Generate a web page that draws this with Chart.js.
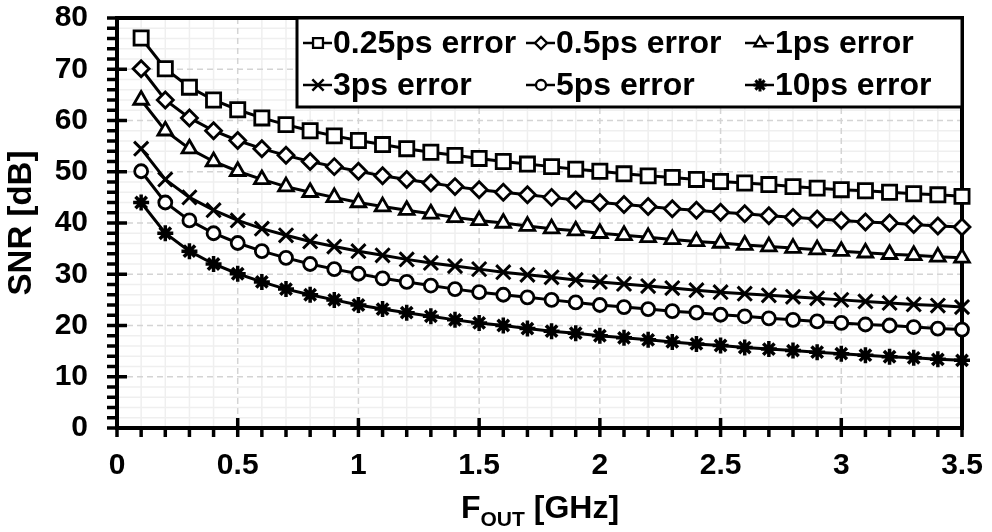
<!DOCTYPE html>
<html>
<head>
<meta charset="utf-8">
<script src="https://cdn.jsdelivr.net/npm/chart.js@4.4.1/dist/chart.umd.min.js"></script>
<style>
  html, body { margin: 0; padding: 0; background: #fff; }
  #wrap { width: 992px; height: 532px; }
</style>
</head>
<body>
<div id="wrap"><canvas id="snrChart"></canvas></div>
<script>
// --- data ---
const freqGHz = [0.1, 0.2, 0.3, 0.4, 0.5, 0.6, 0.7, 0.8, 0.9, 1.0, 1.1, 1.2, 1.3, 1.4, 1.5, 1.6, 1.7, 1.8,
                 1.9, 2.0, 2.1, 2.2, 2.3, 2.4, 2.5, 2.6, 2.7, 2.8, 2.9, 3.0, 3.1, 3.2, 3.3, 3.4, 3.5];
const snr025ps = [76.1, 70.1, 66.5, 64.0, 62.1, 60.5, 59.2, 58.0, 57.0, 56.1, 55.3, 54.5, 53.8, 53.2, 52.6, 52.0, 51.5, 51.0,
                  50.5, 50.1, 49.6, 49.2, 48.9, 48.5, 48.1, 47.8, 47.5, 47.1, 46.8, 46.5, 46.3, 46.0, 45.7, 45.5, 45.2];
const snr05ps = [70.1, 64.0, 60.5, 58.0, 56.1, 54.5, 53.2, 52.0, 51.0, 50.1, 49.2, 48.5, 47.8, 47.1, 46.5, 46.0, 45.5, 45.0,
                 44.5, 44.0, 43.6, 43.2, 42.8, 42.5, 42.1, 41.8, 41.4, 41.1, 40.8, 40.5, 40.2, 40.0, 39.7, 39.4, 39.2];
const snr1ps = [64.0, 58.0, 54.5, 52.0, 50.1, 48.5, 47.1, 46.0, 45.0, 44.0, 43.2, 42.5, 41.8, 41.1, 40.5, 40.0, 39.4, 38.9,
                38.5, 38.0, 37.6, 37.2, 36.8, 36.4, 36.1, 35.7, 35.4, 35.1, 34.8, 34.5, 34.2, 33.9, 33.7, 33.4, 33.2];
const snr3ps = [54.5, 48.5, 45.0, 42.5, 40.5, 38.9, 37.6, 36.4, 35.4, 34.5, 33.7, 32.9, 32.2, 31.6, 31.0, 30.4, 29.9, 29.4,
                28.9, 28.5, 28.1, 27.7, 27.3, 26.9, 26.5, 26.2, 25.9, 25.6, 25.3, 25.0, 24.7, 24.4, 24.1, 23.9, 23.6];
const snr5ps = [50.1, 44.0, 40.5, 38.0, 36.1, 34.5, 33.2, 32.0, 31.0, 30.1, 29.2, 28.5, 27.8, 27.1, 26.5, 26.0, 25.5, 25.0,
                24.5, 24.0, 23.6, 23.2, 22.8, 22.5, 22.1, 21.8, 21.4, 21.1, 20.8, 20.5, 20.2, 20.0, 19.7, 19.4, 19.2];
const snr10ps = [44.0, 38.0, 34.5, 32.0, 30.1, 28.5, 27.1, 26.0, 25.0, 24.0, 23.2, 22.5, 21.8, 21.1, 20.5, 20.0, 19.4, 18.9,
                 18.5, 18.0, 17.6, 17.2, 16.8, 16.4, 16.1, 15.7, 15.4, 15.1, 14.8, 14.5, 14.2, 13.9, 13.7, 13.4, 13.2];
const seriesLabels = ['0.25ps error', '0.5ps error', '1ps error', '3ps error', '5ps error', '10ps error'];
const seriesValues = [snr025ps, snr05ps, snr1ps, snr3ps, snr5ps, snr10ps];
const xRange = [0, 3.5];
const yRange = [0, 80];

// --- look ---
const FONT = "'Liberation Sans', Arial, sans-serif";
const markers = [
    { style: 'rect', r: 10, lr: 7, bw: 2.8 },
    { style: 'rectRot', r: 8, lr: 6, bw: 2.8 },
    { style: 'triangle', r: 8.5, lr: 6.5, bw: 2.8 },
    { style: 'crossRot', r: 10, lr: 8, bw: 3 },
    { style: 'circle', r: 6.5, lr: 5, bw: 2.8 },
    { style: 'star', r: 8, lr: 6.5, bw: 3.5 }
];

function line(ctx, x1, y1, x2, y2) {
    ctx.beginPath(); ctx.moveTo(x1, y1); ctx.lineTo(x2, y2); ctx.stroke();
}

// grid, frame and tick marks (drawn under the series), legend + titles on top
const framePlugin = {
    id: 'frame',
    beforeDatasetsDraw(chart) {
        const { ctx, chartArea: a, scales: { x, y } } = chart;
        ctx.save();
        ctx.lineCap = 'butt';
        // minor grid
        ctx.strokeStyle = '#efefef'; ctx.lineWidth = 1.5;
        for (let i = 1; i < 35; i++) {
            if (i % 5 === 0) continue;
            const px = x.getPixelForValue(i / 10);
            line(ctx, px, a.top, px, a.bottom);
        }
        for (let v = 2; v < 80; v += 2) {
            if (v % 10 === 0) continue;
            const py = y.getPixelForValue(v);
            line(ctx, a.left, py, a.right, py);
        }
        // major grid, dashed
        ctx.strokeStyle = '#d4d4d4'; ctx.lineWidth = 1.5; ctx.setLineDash([6, 4]);
        for (let i = 1; i < 7; i++) {
            const px = x.getPixelForValue(i * 0.5);
            line(ctx, px, a.top, px, a.bottom);
        }
        for (let v = 10; v < 80; v += 10) {
            const py = y.getPixelForValue(v);
            line(ctx, a.left, py, a.right, py);
        }
        ctx.setLineDash([]);
        // frame
        ctx.strokeStyle = '#000'; ctx.lineWidth = 4;
        ctx.strokeRect(a.left, a.top, a.width, a.height);
        // tick marks
        ctx.lineWidth = 3.5;
        for (let i = 0; i <= 35; i++) {
            const px = x.getPixelForValue(i / 10);
            const major = i % 5 === 0;
            line(ctx, px, major ? a.bottom - 10 : a.bottom, px, a.bottom + 9);
        }
        for (let v = 0; v <= 80; v += 2) {
            const py = y.getPixelForValue(v);
            const major = v % 10 === 0;
            line(ctx, a.left - 10, py, major ? a.left + 10 : a.left, py);
        }
        ctx.restore();
    },
    afterDatasetsDraw(chart) {
        const { ctx, chartArea: a } = chart;
        ctx.save();
        // legend box
        const L = a.left + 180, T = a.top, R = a.right, B = a.top + 89;
        ctx.fillStyle = '#fff';
        ctx.fillRect(L, T, R - L, B - T);
        ctx.strokeStyle = '#000'; ctx.lineWidth = 3;
        ctx.strokeRect(L, T, R - L, B - T);
        const colX = [L + 6, L + 229, L + 448];
        const rowY = [T + 25, T + 67];
        ctx.font = `bold 32px ${FONT}`;
        ctx.textBaseline = 'middle';
        ctx.textAlign = 'left';
        seriesLabels.forEach((lab, i) => {
            const sx = colX[i % 3], sy = rowY[Math.floor(i / 3)];
            const m = markers[i];
            ctx.strokeStyle = '#000'; ctx.lineWidth = 2.5;
            line(ctx, sx, sy, sx + 29, sy);
            ctx.fillStyle = '#fff'; ctx.lineWidth = m.bw - 0.5;
            Chart.helpers.drawPoint(ctx, { pointStyle: m.style, radius: m.lr, borderWidth: m.bw - 0.5, rotation: 0 }, sx + 15, sy);
            ctx.fillStyle = '#000';
            ctx.fillText(lab, sx + 30, sy + 1);
        });
        // axis titles
        ctx.fillStyle = '#000';
        ctx.font = `bold 33px ${FONT}`;
        ctx.save();
        ctx.translate(22, (a.top + a.bottom) / 2);
        ctx.rotate(-Math.PI / 2);
        ctx.textAlign = 'center';
        ctx.fillText('SNR [dB]', 0, 0);
        ctx.restore();
        const big = `bold 32px ${FONT}`, small = `bold 21px ${FONT}`;
        ctx.textBaseline = 'alphabetic';
        ctx.font = big; const wF = ctx.measureText('F').width, wG = ctx.measureText(' [GHz]').width;
        ctx.font = small; const wO = ctx.measureText('OUT').width;
        let tx = 540 - (wF + wO + wG) / 2;
        const base = 518;
        ctx.font = big; ctx.fillText('F', tx, base); tx += wF;
        ctx.font = small; ctx.fillText('OUT', tx, base + 8); tx += wO;
        ctx.font = big; ctx.fillText(' [GHz]', tx, base);
        ctx.restore();
    }
};

const datasets = seriesValues.map((vals, i) => ({
    label: seriesLabels[i],
    data: freqGHz.map((f, k) => ({ x: f, y: vals[k] })),
    borderColor: '#000',
    borderWidth: 3,
    pointStyle: markers[i].style,
    pointRadius: markers[i].r,
    pointBorderWidth: markers[i].bw,
    pointBackgroundColor: '#fff',
    pointBorderColor: '#000',
    tension: 0,
    clip: false
}));

function noScalePadding(scale) {
    scale.paddingTop = 0; scale.paddingBottom = 0;
    scale.paddingLeft = 0; scale.paddingRight = 0;
}

new Chart(document.getElementById('snrChart'), {
    type: 'line',
    data: { datasets },
    options: {
        responsive: true, maintainAspectRatio: false, animation: false,
        layout: { padding: { left: 0, right: 30, top: 18, bottom: 0 } },
        plugins: { legend: { display: false }, tooltip: { enabled: false } },
        scales: {
            x: {
                type: 'linear', min: xRange[0], max: xRange[1],
                grid: { display: false, drawTicks: false }, border: { display: false },
                ticks: { stepSize: 0.5, color: '#000', padding: 20, callback: v => `${v}`,
                         font: { family: FONT, size: 30, weight: 'bold' } },
                afterFit(scale) { scale.height = 104; noScalePadding(scale); }
            },
            y: {
                type: 'linear', min: yRange[0], max: yRange[1],
                grid: { display: false, drawTicks: false }, border: { display: false },
                ticks: { stepSize: 10, color: '#000', padding: 29, callback: v => `${v}`,
                         font: { family: FONT, size: 30, weight: 'bold' } },
                afterFit(scale) { scale.width = 117; noScalePadding(scale); }
            }
        }
    },
    plugins: [framePlugin]
});
</script>
</body>
</html>
